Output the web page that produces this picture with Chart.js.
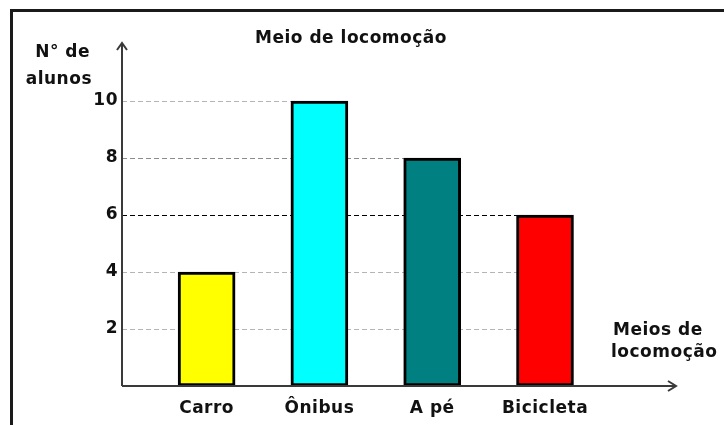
<!DOCTYPE html>
<html>
<head>
<meta charset="utf-8">
<script src="https://cdn.jsdelivr.net/npm/chart.js@4/dist/chart.umd.min.js"></script>
<style>
  html, body { margin: 0; padding: 0; background: #fff; }
  canvas { display: block; }
</style>
</head>
<body>
<canvas id="meios" width="724" height="425"></canvas>
<script>
/* --------------- Data --------------------- */
const categories = ["Carro", "Ônibus", "A pé", "Bicicleta"];
const alunos = [4, 10, 8, 6];
const barColors = ["#ffff00", "#00ffff", "#008080", "#ff0000"];
const yTicks = [2, 4, 6, 8, 10];

const FONT = "'DejaVu Sans', sans-serif";
const SIZE = 17;
const SPACING = "0.5px";

/* --------------- Frame, arrows, dashed guides and texts --------------------- */
const decor = {
    id: "decor",
    beforeDraw(chart) {
        chart.ctx.letterSpacing = SPACING;
    },
    beforeDatasetsDraw(chart) {
        const ctx = chart.ctx;
        const x = chart.scales.x, y = chart.scales.y;
        const area = chart.chartArea;
        ctx.save();
        ctx.lineWidth = 1;
        yTicks.forEach(t => {
            // guide runs to the last bar that reaches this height
            let last = 0;
            alunos.forEach((v, i) => { if (v >= t) last = i; });
            const py = Math.round(y.getPixelForValue(t)) + 0.5;
            ctx.strokeStyle = t === 6 ? "#000000" : (t === 8 ? "#8c8c8c" : "#b4b4b4");
            ctx.setLineDash([5, 3]);
            ctx.beginPath();
            ctx.moveTo(area.left, py);
            ctx.lineTo(x.getPixelForValue(last + 0.75), py);
            ctx.stroke();
        });
        ctx.restore();
    },
    afterDraw(chart) {
        const ctx = chart.ctx;
        const area = chart.chartArea;
        const y = chart.scales.y;
        ctx.save();
        // outer frame
        ctx.strokeStyle = "#1a1a1a";
        ctx.lineWidth = 3;
        ctx.beginPath();
        ctx.moveTo(11.5, 425);
        ctx.lineTo(11.5, 10.5);
        ctx.lineTo(724, 10.5);
        ctx.stroke();

        // axes
        const ox = area.left, oy = area.bottom;
        const topY = y.getPixelForValue(12) - 1;
        const endX = 676;
        ctx.strokeStyle = "#3a3a3a";
        ctx.lineWidth = 2;
        ctx.beginPath();
        ctx.moveTo(ox, oy);
        ctx.lineTo(ox, topY);
        ctx.moveTo(ox, oy);
        ctx.lineTo(endX, oy);
        ctx.stroke();
        ctx.beginPath();
        ctx.moveTo(ox - 5, topY + 7);
        ctx.lineTo(ox, topY);
        ctx.lineTo(ox + 5, topY + 7);
        ctx.moveTo(endX - 8, oy - 5);
        ctx.lineTo(endX, oy);
        ctx.lineTo(endX - 8, oy + 5);
        ctx.stroke();

        // texts
        ctx.letterSpacing = SPACING;
        ctx.fillStyle = "#111";
        ctx.font = "bold " + SIZE + "px " + FONT;
        ctx.textBaseline = "middle";
        ctx.textAlign = "center";
        ctx.fillText("Meio de locomoção", 351, 39);
        ctx.textAlign = "right";
        ctx.fillText("N° de", 90, 53);
        ctx.fillText("alunos", 92, 80);
        ctx.textAlign = "left";
        ctx.fillText("Meios de", 613, 331);
        ctx.fillText("locomoção", 611, 353);
        ctx.restore();
    }
};

/* --------------- Chart --------------------- */
const meiosChart = new Chart(document.getElementById("meios"), {
    type: "bar",
    plugins: [decor],
    data: {
        datasets: [{
            data: alunos.map((v, i) => ({ x: i + 0.75, y: v })),
            backgroundColor: barColors,
            borderColor: "#000000",
            borderWidth: 3,
            borderSkipped: false,
            barThickness: 57,
        }],
    },
    options: {
        responsive: false,
        animation: false,
        layout: { padding: { left: 82, top: 44, right: 38, bottom: 0 } },
        plugins: {
            legend: { display: false },
            tooltip: { enabled: false },
        },
        scales: {
            x: {
                type: "linear",
                min: 0,
                max: 5,
                offset: false,
                grid: { display: false, drawTicks: false },
                border: { display: false },
                afterBuildTicks: scale => {
                    scale.ticks = categories.map((c, i) => ({ value: i + 0.75 }));
                },
                afterFit: scale => { scale.height = 39; },
                ticks: {
                    autoSkip: false,
                    maxRotation: 0,
                    padding: 12,
                    color: "#111",
                    font: { family: FONT, size: SIZE, weight: "bold" },
                    callback: (value, index) => categories[index],
                },
            },
            y: {
                min: 0,
                max: 12,
                grid: { display: false, drawTicks: false },
                border: { display: false },
                afterFit: scale => { scale.width = 40; },
                ticks: {
                    stepSize: 2,
                    padding: 4,
                    color: "#111",
                    font: { family: FONT, size: SIZE, weight: "bold" },
                    callback: v => (yTicks.includes(v) ? v : ""),
                },
            },
        },
    },
});
</script>
</body>
</html>
